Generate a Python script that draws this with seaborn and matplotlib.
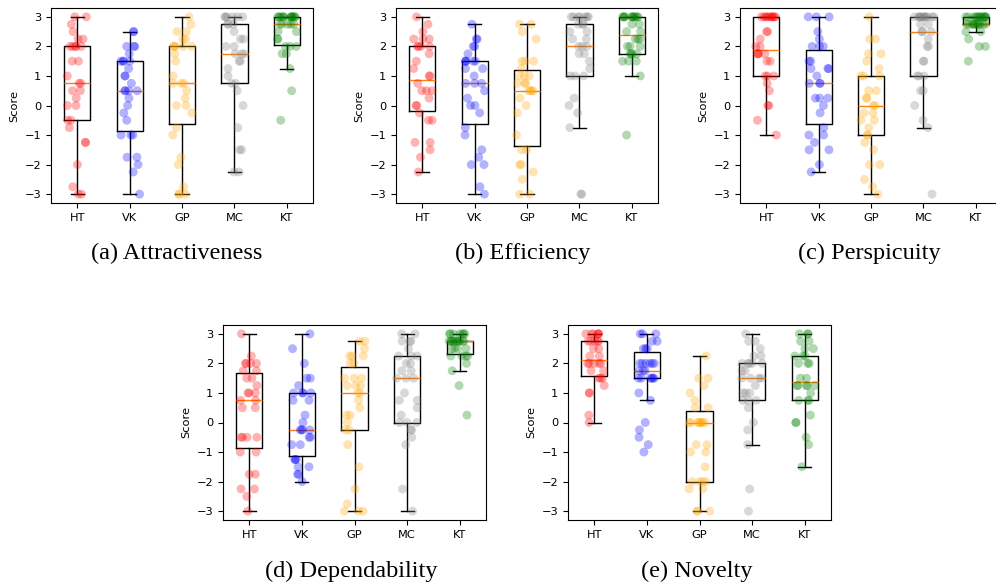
import numpy as np
import pandas as pd
import matplotlib
matplotlib.use("Agg")
import matplotlib.pyplot as plt
import seaborn as sns

groups = ["HT", "VK", "GP", "MC", "KT"]
colors = ["red", "blue", "orange", "gray", "green"]
captions = ["(a) Attractiveness", "(b) Efficiency", "(c) Perspicuity",
            "(d) Dependability", "(e) Novelty"]

# Attractiveness
attr_ht = [-3, -3, -2.75, -2, -1.25, -1.25, -0.75, -0.5, -0.5, 0, 0, 0.25, 0.5, 0.5, 0.75, 0.75, 1, 1.5, 1.5, 2, 2, 2, 2, 2, 2.25, 2.25, 2.5, 2.75, 3, 3]
attr_vk = [-3, -2.25, -2, -1.75, -1.75, -1, -1, -1, -0.5, -0.25, 0, 0.25, 0.5, 0.5, 0.5, 0.5, 0.75, 1, 1, 1.25, 1.5, 1.5, 1.5, 1.5, 1.75, 2, 2, 2, 2.5, 2.5]
attr_gp = [-3, -3, -3, -2.75, -2, -1.75, -1, -0.75, -0.25, 0, 0, 0.25, 0.5, 0.75, 0.75, 0.75, 1, 1.5, 1.75, 2, 2, 2, 2, 2, 2.25, 2.25, 2.5, 2.5, 2.75, 3]
attr_mc = [-2.25, -2.25, -1.5, -1.5, -0.75, 0, 0.5, 0.75, 0.75, 1, 1.25, 1.5, 1.5, 1.75, 1.75, 1.75, 2, 2, 2.25, 2.25, 2.5, 2.75, 2.75, 2.75, 3, 3, 3, 3, 3, 3]
attr_kt = [-0.5, 0.5, 1.25, 1.75, 1.75, 2, 2, 2, 2.25, 2.25, 2.5, 2.5, 2.75, 2.75, 2.75, 2.75, 2.75, 3, 3, 3, 3, 3, 3, 3, 3, 3, 3, 3, 3, 3]

# Efficiency
eff_ht = [-2.25, -1.75, -1.5, -1.25, -1.25, -0.5, -0.5, -0.25, 0, 0, 0.25, 0.5, 0.5, 0.5, 0.75, 1, 1, 1.25, 1.5, 1.75, 2, 2, 2, 2, 2.25, 2.25, 2.25, 2.5, 2.75, 3]
eff_vk = [-3, -2.75, -2, -2, -1.75, -1.5, -1, -0.75, -0.25, 0, 0, 0.25, 0.5, 0.75, 0.75, 0.75, 1, 1.25, 1.25, 1.5, 1.5, 1.5, 1.5, 1.5, 1.75, 2, 2, 2.25, 2.25, 2.75]
eff_gp = [-3, -3, -2.5, -2.25, -2, -2, -1.5, -1.5, -1, -0.25, 0, 0.25, 0.5, 0.5, 0.5, 0.5, 0.75, 0.75, 0.75, 1, 1, 1, 1.25, 1.5, 1.5, 1.5, 2.25, 2.5, 2.75, 2.75]
eff_mc = [-3, -3, -0.75, -0.25, 0, 0.25, 1, 1, 1, 1.25, 1.5, 1.75, 1.75, 2, 2, 2, 2.25, 2.25, 2.5, 2.5, 2.75, 2.75, 2.75, 3, 3, 3, 3, 3, 3, 3]
eff_kt = [-1, 1, 1.5, 1.5, 1.5, 1.75, 1.75, 1.75, 1.75, 2, 2, 2, 2.25, 2.25, 2.25, 2.5, 2.5, 2.75, 2.75, 3, 3, 3, 3, 3, 3, 3, 3, 3, 3, 3]

# Perspicuity
per_ht = [-1, -0.5, 0, 0, 0.5, 0.75, 1, 1, 1, 1.5, 1.5, 1.75, 1.75, 1.75, 1.75, 2, 2, 2.25, 2.5, 2.5, 3, 3, 3, 3, 3, 3, 3, 3, 3, 3]
per_vk = [-2.25, -2, -1.5, -1.5, -1.25, -1, -1, -0.75, -0.25, 0, 0.25, 0.25, 0.25, 0.75, 0.75, 0.75, 1, 1.25, 1.25, 1.25, 1.5, 1.5, 2, 2, 2, 2.25, 2.5, 3, 3, 3]
per_gp = [-3, -2.75, -2.5, -2, -2, -1.5, -1.25, -1, -1, -0.75, -0.5, -0.5, -0.25, -0.25, 0, 0, 0.25, 0.25, 0.5, 0.5, 1, 1, 1, 1.25, 1.5, 1.75, 1.75, 2.25, 2.25, 3]
per_mc = [-3, -0.75, -0.5, 0, 0.5, 0.5, 1, 1, 1, 1.5, 1.5, 2, 2, 2.25, 2.5, 2.5, 2.5, 2.75, 2.75, 3, 3, 3, 3, 3, 3, 3, 3, 3, 3, 3]
per_kt = [1.5, 2, 2, 2.25, 2.5, 2.5, 2.75, 2.75, 2.75, 2.75, 2.75, 2.75, 2.75, 2.75, 2.75, 2.75, 2.75, 3, 3, 3, 3, 3, 3, 3, 3, 3, 3, 3, 3, 3]

# Dependability
dep_ht = [-3, -2.5, -2.25, -2.25, -1.75, -1.75, -1, -1, -0.5, -0.5, -0.5, -0.5, 0.5, 0.5, 0.75, 0.75, 1, 1, 1, 1.25, 1.5, 1.5, 1.75, 1.75, 2, 2, 2, 2, 2.25, 3]
dep_vk = [-2, -1.75, -1.75, -1.5, -1.5, -1.25, -1.25, -1.25, -0.75, -0.75, -0.5, -0.5, -0.25, -0.25, -0.25, -0.25, 0, 0.25, 0.75, 0.75, 1, 1, 1, 1, 1.25, 1.5, 1.5, 2, 2.5, 3]
dep_gp = [-3, -3, -3, -2.75, -2.25, -1.5, -0.75, -0.25, -0.25, 0, 0.25, 0.25, 0.5, 0.75, 1, 1, 1.25, 1.25, 1.25, 1.5, 1.5, 1.5, 2, 2, 2.25, 2.25, 2.25, 2.5, 2.75, 2.75]
dep_mc = [-3, -2.25, -0.75, -0.5, -0.25, -0.25, 0, 0, 0, 0.25, 0.5, 0.75, 0.75, 1, 1.5, 1.5, 1.5, 1.75, 1.75, 2, 2, 2.25, 2.25, 2.25, 2.5, 2.75, 2.75, 2.75, 3, 3]
dep_kt = [0.25, 1.25, 1.75, 2, 2.25, 2.25, 2.25, 2.25, 2.5, 2.5, 2.5, 2.5, 2.75, 2.75, 2.75, 2.75, 2.75, 2.75, 2.75, 2.75, 2.75, 2.75, 2.75, 3, 3, 3, 3, 3, 3, 3]

# Novelty
nov_ht = [0, 0.25, 1, 1, 1.25, 1.5, 1.5, 1.5, 1.75, 1.75, 2, 2, 2, 2, 2, 2.25, 2.25, 2.5, 2.5, 2.75, 2.75, 2.75, 2.75, 2.75, 3, 3, 3, 3, 3, 3]
nov_vk = [-1, -0.75, -0.5, -0.25, 0, 0.75, 1, 1.5, 1.5, 1.5, 1.5, 1.5, 1.5, 1.75, 1.75, 1.75, 2, 2, 2, 2, 2, 2, 2.5, 2.5, 2.5, 2.75, 2.75, 3, 3, 3]
nov_gp = [-3, -3, -3, -2.25, -2.25, -2, -2, -2, -2, -1.5, -1, -1, -0.75, -0.75, 0, 0, 0, 0, 0, 0, 0, 0, 0.5, 0.5, 0.75, 1, 1.25, 1.5, 1.5, 2.25]
nov_mc = [-3, -2.25, -0.75, -0.25, 0, 0.5, 0.75, 0.75, 0.75, 1, 1, 1, 1.25, 1.5, 1.5, 1.5, 1.5, 1.75, 1.75, 2, 2, 2, 2, 2, 2.25, 2.25, 2.5, 2.75, 2.75, 3]
nov_kt = [-1.5, -0.75, -0.5, 0, 0, 0.25, 0.75, 0.75, 0.75, 1, 1.25, 1.25, 1.25, 1.25, 1.25, 1.5, 1.5, 2, 2, 2, 2.25, 2.25, 2.25, 2.5, 2.5, 2.75, 2.75, 3, 3, 3]

panels = [
    [attr_ht, attr_vk, attr_gp, attr_mc, attr_kt],
    [eff_ht, eff_vk, eff_gp, eff_mc, eff_kt],
    [per_ht, per_vk, per_gp, per_mc, per_kt],
    [dep_ht, dep_vk, dep_gp, dep_mc, dep_kt],
    [nov_ht, nov_vk, nov_gp, nov_mc, nov_kt],
]

W, H = 996, 586
fig = plt.figure(figsize=(W / 100, H / 100), dpi=100)

# axes boxes in pixels (left, top, right, bottom)
boxes = [(51, 8, 313, 203), (396, 8, 658, 203), (740, 8, 1002, 203),
         (223, 325, 486, 520), (568, 325, 831, 520)]
cap_pos = [(177, 253), (523, 253), (869, 253), (351, 571), (697, 571)]

np.random.seed(3)
for i, (vals, (x0, y0, x1, y1)) in enumerate(zip(panels, boxes)):
    ax = fig.add_axes([x0 / W, 1 - y1 / H, (x1 - x0) / W, (y1 - y0) / H])
    df = pd.DataFrame({
        "group": np.repeat(groups, [len(v) for v in vals]),
        "score": np.concatenate([np.asarray(v, float) for v in vals]),
    })
    ax.boxplot(vals, positions=range(len(groups)), widths=0.5, showfliers=False,
               manage_ticks=False,
               medianprops=dict(color="#ff7f0e", linewidth=1.0),
               boxprops=dict(color="black", linewidth=1.0),
               whiskerprops=dict(color="black", linewidth=1.0),
               capprops=dict(color="black", linewidth=1.0))
    sns.stripplot(data=df, x="group", y="score", hue="group", order=groups,
                  hue_order=groups, palette=colors, jitter=0.2, size=6.4,
                  alpha=0.3, linewidth=0, legend=False, ax=ax, zorder=3)
    ax.set_xlim(-0.5, 4.5)
    ax.set_ylim(-3.3, 3.3)
    ax.set_xticks(range(len(groups)))
    ax.set_xticklabels(groups)
    ax.set_yticks([-3, -2, -1, 0, 1, 2, 3])
    ax.set_xlabel("")
    ax.set_ylabel("Score", fontsize=8.2)
    ax.tick_params(labelsize=8.2, length=3.5, width=0.8)
    for s in ax.spines.values():
        s.set_linewidth(0.8)
    cx, cy = cap_pos[i]
    fig.text(cx / W, 1 - cy / H, captions[i], ha="center", va="center",
             fontsize=17.5, family="Liberation Serif")

fig.savefig("out.png", dpi=100)
